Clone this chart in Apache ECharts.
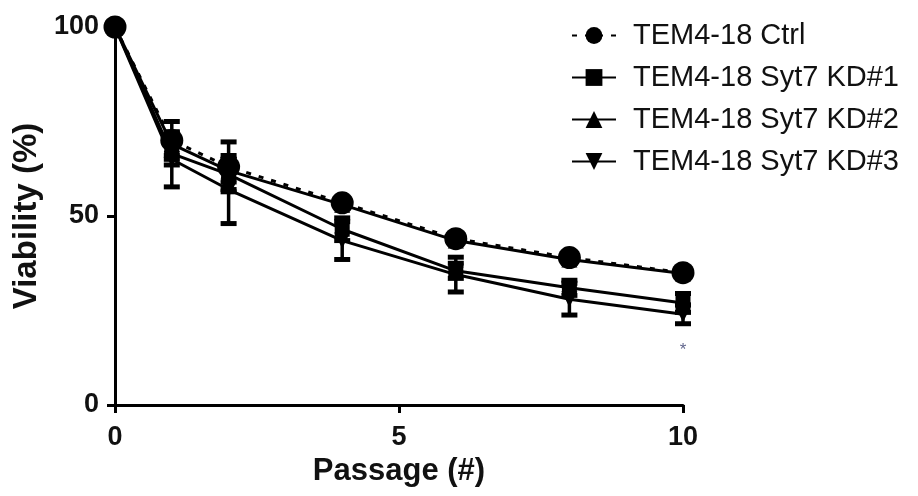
<!DOCTYPE html>
<html><head><meta charset="utf-8">
<script src="https://cdn.jsdelivr.net/npm/echarts/dist/echarts.min.js"></script>
<style>html,body{margin:0;padding:0;background:#fff}#c{width:918px;height:496px}</style>
</head><body><div id="c"></div>
<script>
const passages = [0, 1, 2, 4, 6, 8, 10];
const seriesNames = ['TEM4-18 Ctrl', 'TEM4-18 Syt7 KD#1', 'TEM4-18 Syt7 KD#2', 'TEM4-18 Syt7 KD#3'];
const ctrl = [100, 70, 63, 53.5, 44, 39, 35];
const kd1 = [100, 66.5, 61, 46.5, 35.5, 31, 27];
const kd2 = [100, 69, 62, 53, 43.5, 38.5, 34.8];
const kd3 = [100, 65, 57, 43.5, 34.5, 28, 24];
const ctrlErr = [0, 5, 6.6, 1, 1, 1, 1];
const kd1Err = [0, 3, 4, 3, 2, 2, 2.5];
const kd2Err = [0, 3, 3, 1, 1, 1, 1];
const kd3Err = [0, 7.3, 9, 5, 4.6, 4.2, 2.5];
const yTicks = [0, 50, 100];
const xTicks = [0, 5, 10];
const sigMark = [[10, 14.5]];
const sigText = '*';

const values = [ctrl, kd1, kd2, kd3];
const errs = [ctrlErr, kd1Err, kd2Err, kd3Err];
const symbols = ['circle', 'rect', 'triangle', 'triangle'];
const symbolSizes = [23, 15, 16, 16];
const symbolRotates = [0, 0, 0, 180];
const lineTypes = [[5, 8], 'solid', 'solid', 'solid'];

function errRender(params, api) {
  const x = api.value(0), y = api.value(1), e = api.value(2);
  if (!e) return;
  const top = api.coord([x, y + e]);
  const bot = api.coord([x, y - e]);
  const hw = 8;
  return {
    type: 'group',
    children: [
      { type: 'line', shape: { x1: top[0], y1: top[1], x2: bot[0], y2: bot[1] }, style: { stroke: '#000', lineWidth: 3.5 } },
      { type: 'line', shape: { x1: top[0] - hw, y1: top[1], x2: top[0] + hw, y2: top[1] }, style: { stroke: '#000', lineWidth: 5 } },
      { type: 'line', shape: { x1: bot[0] - hw, y1: bot[1], x2: bot[0] + hw, y2: bot[1] }, style: { stroke: '#000', lineWidth: 5 } }
    ]
  };
}

const series = [];
values.forEach((vals, k) => {
  series.push({
    name: seriesNames[k] + ' err',
    type: 'custom',
    renderItem: errRender,
    encode: { x: 0, y: 1 },
    data: passages.map((p, i) => [p, vals[i], errs[k][i]]),
    z: 1,
    silent: true
  });
});
values.forEach((vals, k) => {
  series.push({
    name: seriesNames[k],
    type: 'line',
    data: passages.map((p, i) => [p, vals[i]]),
    symbol: symbols[k],
    symbolSize: symbolSizes[k],
    symbolRotate: symbolRotates[k],
    showAllSymbol: true,
    clip: false,
    itemStyle: { color: '#000', borderWidth: 0 },
    lineStyle: { color: '#000', width: 3, type: lineTypes[k] },
    z: 3 + k,
    animation: false
  });
});
series.push({
  name: 'sig',
  type: 'scatter',
  data: sigMark,
  symbolSize: 0,
  label: { show: true, formatter: sigText, position: 'inside', fontSize: 17, color: '#3a4070', fontFamily: 'Liberation Sans' }
});

const chart = echarts.init(document.getElementById('c'), null, { renderer: 'canvas' });
chart.setOption({
  animation: false,
  backgroundColor: '#fff',
  grid: { left: 115, right: 235, top: 27, bottom: 91, containLabel: false },
  legend: {
    data: seriesNames,
    orient: 'vertical',
    left: 566,
    top: 16,
    itemWidth: 44,
    itemHeight: 21,
    itemGap: 13,
    textStyle: { fontSize: 29, fontFamily: 'Liberation Sans', color: '#111', padding: [0, 0, 0, 12] },
    selectedMode: false
  },
  xAxis: {
    type: 'value', min: 0, max: 10, interval: 5,
    name: 'Passage (#)', nameLocation: 'middle', nameGap: 45,
    nameTextStyle: { fontSize: 31, fontWeight: 'bold', fontFamily: 'Liberation Sans', color: '#111' },
    axisLine: { show: true, onZero: false, lineStyle: { color: '#000', width: 3 } },
    axisTick: { show: true, length: 8, lineStyle: { color: '#000', width: 3 } },
    axisLabel: { margin: 19, fontSize: 27, fontWeight: 'bold', fontFamily: 'Liberation Sans', color: '#111',
      formatter: v => xTicks.includes(v) ? String(v) : '' },
    splitLine: { show: false }
  },
  yAxis: {
    type: 'value', min: 0, max: 100, interval: 50,
    name: 'Viability (%)', nameLocation: 'middle', nameGap: 72,
    nameTextStyle: { fontSize: 33, fontWeight: 'bold', fontFamily: 'Liberation Sans', color: '#111' },
    axisLine: { show: true, onZero: false, lineStyle: { color: '#000', width: 3 } },
    axisTick: { show: true, length: 8, lineStyle: { color: '#000', width: 3 } },
    axisLabel: { margin: 16, fontSize: 27, fontWeight: 'bold', fontFamily: 'Liberation Sans', color: '#111',
      formatter: v => yTicks.includes(v) ? String(v) : '' },
    splitLine: { show: false }
  },
  series: series
});
</script>
</body></html>
